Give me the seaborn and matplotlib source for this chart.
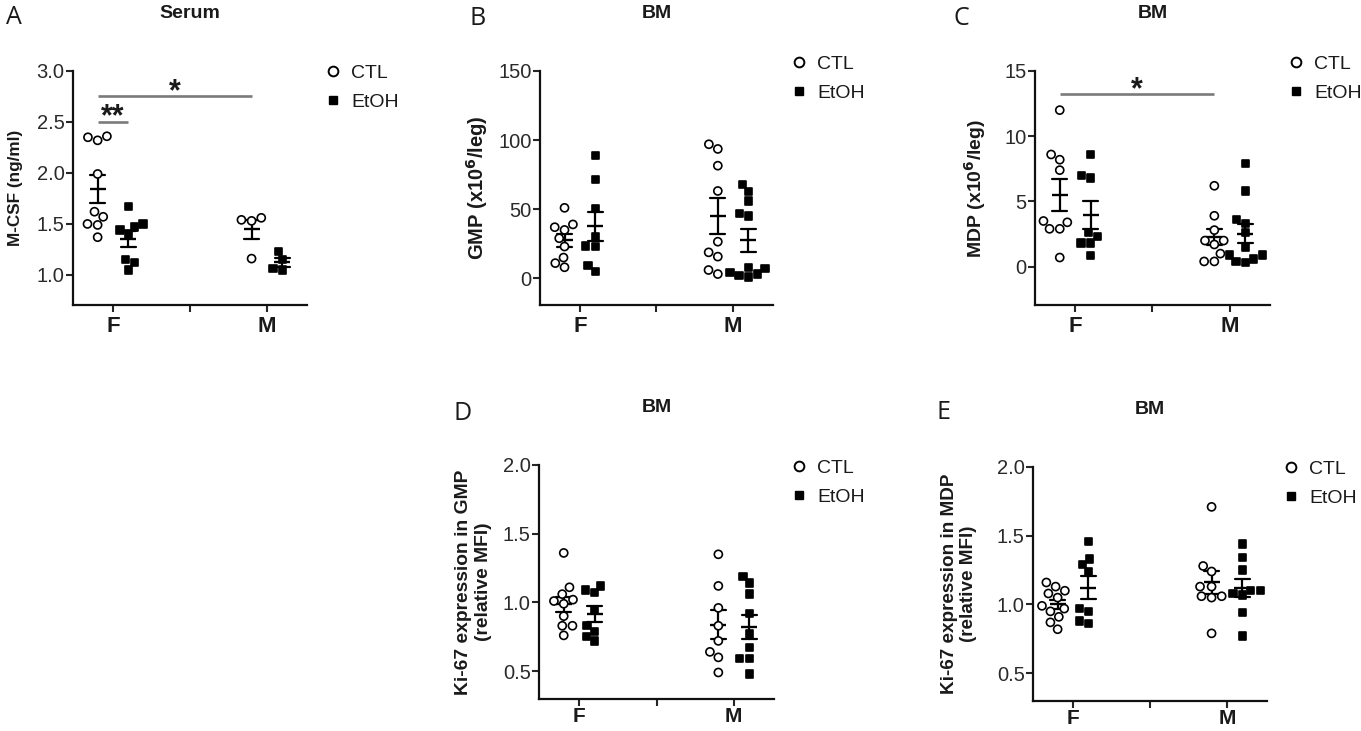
import numpy as np
import pandas as pd
import matplotlib
matplotlib.use('Agg')
import matplotlib.pyplot as plt
import seaborn as sns
from matplotlib.lines import Line2D

sns.set_style('ticks')
plt.rcParams['font.family'] = ['Liberation Sans', 'DejaVu Sans']

# ---------------- data ----------------
sexes = ['F', 'M']
groups = ['CTL', 'EtOH']

# A: Serum M-CSF (ng/ml)
a_f_ctl = [2.36, 2.35, 2.32, 1.99, 1.62, 1.57, 1.50, 1.49, 1.37]
a_f_etoh = [1.67, 1.50, 1.47, 1.44, 1.40, 1.15, 1.12, 1.05]
a_m_ctl = [1.56, 1.54, 1.53, 1.16]
a_m_etoh = [1.23, 1.15, 1.06, 1.05]

# B: BM GMP (x10^6/leg)
b_f_ctl = [51, 39, 37, 35, 29, 23, 15, 11, 8]
b_f_etoh = [88.7, 71.6, 50.6, 30, 23.4, 23.0, 9.2, 4.8]
b_m_ctl = [97, 93.6, 81.5, 63.2, 26.5, 18.8, 15.7, 6, 3.1]
b_m_etoh = [68, 63, 56, 47, 45, 8, 7, 4, 3, 2, 1]

# C: BM MDP (x10^6/leg)
c_f_ctl = [12.0, 8.6, 8.2, 7.4, 3.5, 3.4, 2.9, 2.9, 0.7]
c_f_etoh = [8.6, 7.0, 6.8, 2.6, 2.3, 1.8, 1.8, 0.85]
c_m_ctl = [6.2, 3.9, 2.8, 2.0, 2.0, 1.7, 1.0, 0.4, 0.4]
c_m_etoh = [7.9, 5.8, 3.6, 3.3, 2.6, 1.5, 0.9, 0.9, 0.6, 0.4, 0.3]

# D: Ki-67 in GMP (relative MFI)
d_f_ctl = [1.36, 1.11, 1.06, 1.02, 1.01, 0.99, 0.90, 0.83, 0.83, 0.76]
d_f_etoh = [1.12, 1.09, 1.07, 0.95, 0.83, 0.79, 0.75, 0.72]
d_m_ctl = [1.35, 1.12, 0.96, 0.83, 0.72, 0.64, 0.60, 0.49]
d_m_etoh = [1.19, 1.14, 1.06, 0.92, 0.77, 0.67, 0.59, 0.59, 0.48]

# E: Ki-67 in MDP (relative MFI)
e_f_ctl = [1.16, 1.13, 1.10, 1.08, 1.05, 0.99, 0.97, 0.95, 0.91, 0.87, 0.82]
e_f_etoh = [1.46, 1.33, 1.29, 1.24, 0.97, 0.95, 0.88, 0.86]
e_m_ctl = [1.71, 1.28, 1.24, 1.13, 1.13, 1.06, 1.06, 1.05, 0.79]
e_m_etoh = [1.44, 1.34, 1.25, 1.10, 1.10, 1.08, 1.07, 0.94, 0.77]

a_yticks = [1.0, 1.5, 2.0, 2.5, 3.0]
b_yticks = [0, 50, 100, 150]
c_yticks = [0, 5, 10, 15]
d_yticks = [0.5, 1.0, 1.5, 2.0]
e_yticks = [0.5, 1.0, 1.5, 2.0]

# significance: (sex1, group1, sex2, group2, y, label)
a_sig = [('F', 'CTL', 'F', 'EtOH', 2.50, '**'), ('F', 'CTL', 'M', 'CTL', 2.75, '*')]
c_sig = [('F', 'CTL', 'M', 'CTL', 13.2, '*')]

# ---------------- figure ----------------
W, H = 1361, 731
fig = plt.figure(figsize=(W / 100, H / 100), dpi=100)


def add_axes(l, r, t, b):
    return fig.add_axes([l / W, 1 - b / H, (r - l) / W, (b - t) / H])


hue_levels = ['_p0', 'CTL', 'EtOH', '_p1']
swarm_palette = {'_p0': 'white', 'CTL': 'white', 'EtOH': 'black', '_p1': 'white'}
dodge_off = {'CTL': -0.1, 'EtOH': 0.1}
TXT = '#1a1a1a'


def draw_panel(ax, values, ylim, yticks, fmt, ylabel, ylab_size, ylab_pad, title,
               leg_xy, sig=(), xlab_size=16, xlab_pad=3):
    rows = []
    for (sex, grp), vals in values.items():
        for v in vals:
            rows.append({'sex': sex, 'group': grp, 'value': v})
    df = pd.DataFrame(rows)
    for grp, marker in [('CTL', 'o'), ('EtOH', 's')]:
        sns.swarmplot(data=df[df.group == grp], x='sex', y='value', hue='group',
                      order=sexes, hue_order=hue_levels, palette=swarm_palette,
                      dodge=True, marker=marker, size=5.8 if marker == 'o' else 5.3,
                      edgecolor='black', linewidth=1.2, legend=False, ax=ax)
    sns.pointplot(data=df, x='sex', y='value', hue='group', order=sexes,
                  hue_order=groups, palette={'CTL': 'black', 'EtOH': 'black'},
                  dodge=0.2, errorbar='se', markers='_', linestyle='none',
                  markersize=11, markeredgewidth=1.7, capsize=0.1,
                  err_kws={'linewidth': 1.6, 'linestyle': '-'}, legend=False, ax=ax)
    ax.set_xlim(-0.26, 1.26)
    ax.set_ylim(*ylim)
    ax.set_yticks(yticks, labels=[fmt.format(t) for t in yticks])
    ax.set_xticks([0, 0.5, 1], labels=['F', '', 'M'])
    for lab in ax.get_xticklabels():
        lab.set_fontweight('bold')
        lab.set_fontsize(xlab_size)
    ax.tick_params(axis='y', labelsize=14.5, labelcolor='#2a2a2a', length=5, width=1.5, pad=1)
    ax.tick_params(axis='x', length=5, width=1.5, pad=xlab_pad, labelcolor=TXT)
    ax.set_xlabel('')
    ax.set_ylabel(ylabel, fontsize=ylab_size, fontweight='bold', color=TXT, labelpad=ylab_pad)
    for s in ['top', 'right']:
        ax.spines[s].set_visible(False)
    for s in ['left', 'bottom']:
        ax.spines[s].set_linewidth(1.6)
        ax.spines[s].set_color('#111111')
    ax.set_title(title, fontweight='bold', fontsize=14, pad=38, color=TXT)
    handles = [Line2D([], [], marker='o', ls='none', mfc='white', mec='black', mew=1.4, ms=7),
               Line2D([], [], marker='s', ls='none', mfc='black', mec='black', ms=6)]
    ax.legend(handles, groups, loc='upper left', bbox_to_anchor=(leg_xy[0] / W, 1 - leg_xy[1] / H),
              bbox_transform=fig.transFigure, frameon=False, fontsize=14,
              handlelength=0.8, handletextpad=0.55, borderpad=0, borderaxespad=0,
              labelspacing=0.6, labelcolor=TXT)
    for s1, g1, s2, g2, y, lab in sig:
        x1 = sexes.index(s1) + dodge_off[g1]
        x2 = sexes.index(s2) + dodge_off[g2]
        ax.plot([x1, x2], [y, y], color='#7a7a7a', lw=1.9, solid_capstyle='butt', zorder=3)
        ax.annotate(lab, xy=((x1 + x2) / 2, y), xytext=(0, -2.5), textcoords='offset points',
                    ha='center', va='baseline', fontsize=22, fontweight='bold', color=TXT)


axA = add_axes(73, 307, 71, 305)
axB = add_axes(540, 773, 71, 305)
axC = add_axes(1035, 1270, 71, 305)
axD = add_axes(539, 774, 465, 699)
axE = add_axes(1033, 1267, 467, 701)

draw_panel(axA, {('F', 'CTL'): a_f_ctl, ('F', 'EtOH'): a_f_etoh,
                 ('M', 'CTL'): a_m_ctl, ('M', 'EtOH'): a_m_etoh},
           (0.705, 3.0), a_yticks, '{:.1f}', 'M-CSF (ng/ml)', 12.3, 10, 'Serum', (325, 64), a_sig)
draw_panel(axB, {('F', 'CTL'): b_f_ctl, ('F', 'EtOH'): b_f_etoh,
                 ('M', 'CTL'): b_m_ctl, ('M', 'EtOH'): b_m_etoh},
           (-19.3, 150), b_yticks, '{:.0f}', 'GMP (x10$^{\\mathbf{6}}$/leg)', 14.5, 6, 'BM', (791, 55))
draw_panel(axC, {('F', 'CTL'): c_f_ctl, ('F', 'EtOH'): c_f_etoh,
                 ('M', 'CTL'): c_m_ctl, ('M', 'EtOH'): c_m_etoh},
           (-2.94, 15), c_yticks, '{:.0f}', 'MDP (x10$^{\\mathbf{6}}$/leg)', 14, 12, 'BM', (1288, 55), c_sig)
draw_panel(axD, {('F', 'CTL'): d_f_ctl, ('F', 'EtOH'): d_f_etoh,
                 ('M', 'CTL'): d_m_ctl, ('M', 'EtOH'): d_m_etoh},
           (0.297, 2.0), d_yticks, '{:.1f}', 'Ki-67 expression in GMP\n(relative MFI)', 13.9, 8, 'BM', (791, 459),
           xlab_size=15, xlab_pad=1)
draw_panel(axE, {('F', 'CTL'): e_f_ctl, ('F', 'EtOH'): e_f_etoh,
                 ('M', 'CTL'): e_m_ctl, ('M', 'EtOH'): e_m_etoh},
           (0.298, 2.0), e_yticks, '{:.1f}', 'Ki-67 expression in MDP\n(relative MFI)', 13.6, 14, 'BM', (1283, 460),
           xlab_size=15, xlab_pad=1)

for letter, (x, y) in {'A': (6, 5), 'B': (469, 6), 'C': (954, 6), 'D': (454, 401), 'E': (937, 400)}.items():
    fig.text(x / W, 1 - y / H, letter, ha='left', va='top', fontsize=18,
             family=['Open Sans', 'DejaVu Sans'], color=TXT)

fig.savefig('out.png', dpi=100)
